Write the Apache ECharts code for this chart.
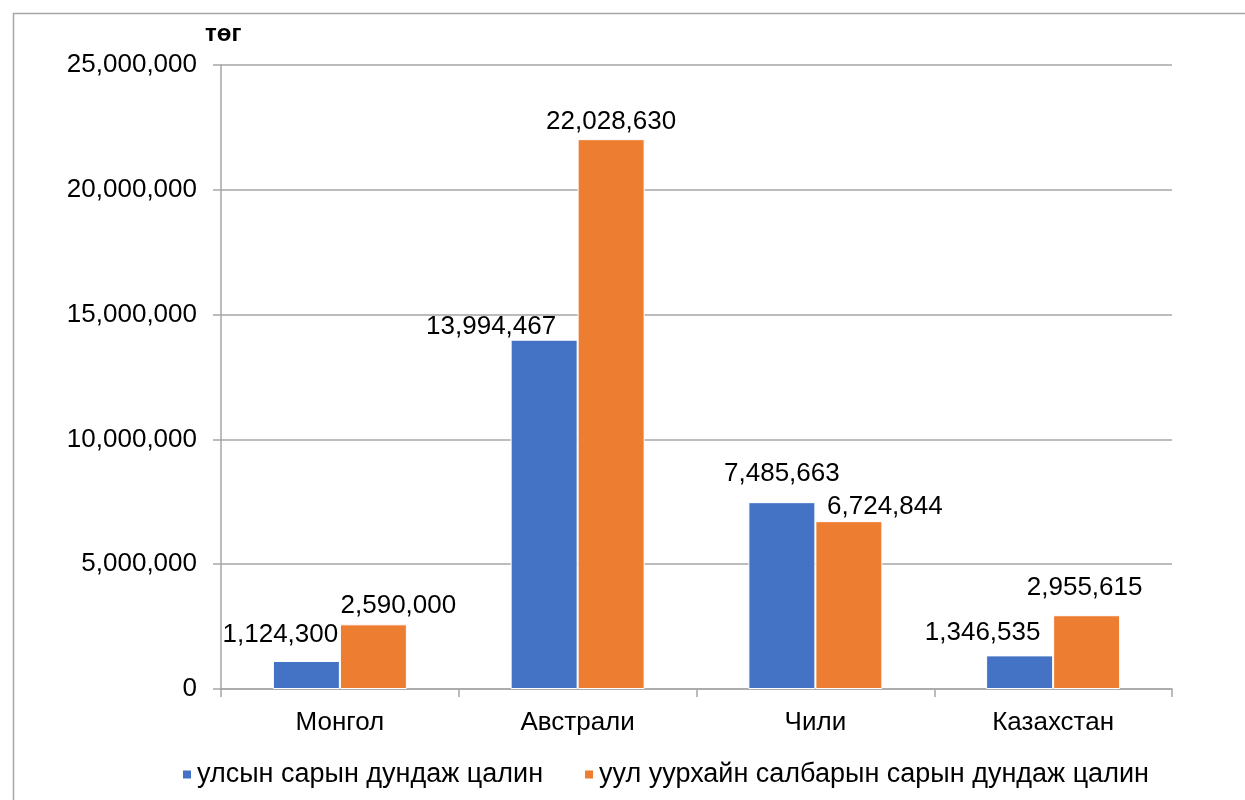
<!DOCTYPE html>
<html>
<head>
<meta charset="utf-8">
<script src="https://cdn.jsdelivr.net/npm/echarts@6/dist/echarts.min.js"></script>
<style>
html,body{margin:0;padding:0;background:#fff;}
#chart{width:1245px;height:800px;}
</style>
</head>
<body>
<div id="chart"></div>
<script>
const categories = ['Монгол', 'Австрали', 'Чили', 'Казахстан'];
const seriesNames = ['улсын сарын дундаж цалин', 'уул уурхайн салбарын сарын дундаж цалин'];
const nationalWage = [1124300, 13994467, 7485663, 1346535];
const miningWage = [2590000, 22028630, 6724844, 2955615];
const yTicks = [0, 5000000, 10000000, 15000000, 20000000, 25000000];
const unitLabel = 'төг';

// label placement tweaks (dx, distance above bar) mimicking the original layout
const nationalLabelShift = [[-26, 13], [-53, 0], [0, 15], [-37, 10]];
const miningLabelShift = [[25, 6], [0, 4], [36, 1], [-2, 14]];

const FONT = '"Liberation Sans", Arial, sans-serif';
const fmt = v => Number(v).toLocaleString('en-US');

function buildData(values, shifts) {
  return values.map((v, i) => ({
    value: v,
    label: { offset: [shifts[i][0], 0], distance: shifts[i][1] }
  }));
}

const chart = echarts.init(document.getElementById('chart'), null, { renderer: 'canvas' });
const labelStyle = {
  show: true, position: 'top', color: '#000', fontSize: 26, fontFamily: FONT,
  lineHeight: 26, formatter: p => fmt(p.value)
};
chart.setOption({
  animation: false,
  backgroundColor: '#fff',
  textStyle: { fontFamily: FONT },
  graphic: [
    { type: 'rect', left: 11, top: 11, shape: { width: 1400, height: 1000 },
      style: { fill: 'none', stroke: '#a6a6a6', lineWidth: 1.5 }, silent: true },
    { type: 'text', left: 205, top: 22,
      style: { text: unitLabel, font: 'bold 24px "Liberation Sans", Arial, sans-serif', fill: '#000' } }
  ],
  grid: { left: 221, right: 73, top: 65, bottom: 111, containLabel: false },
  legend: {
    left: 181, top: 761, padding: 0, itemWidth: 10, itemHeight: 10, itemGap: 40,
    icon: 'rect',
    textStyle: { fontSize: 27, color: '#000', fontFamily: FONT },
    data: seriesNames
  },
  xAxis: {
    type: 'category', data: categories,
    axisLine: { lineStyle: { color: '#a6a6a6', width: 1.5 } },
    axisTick: { show: true, length: 8, lineStyle: { color: '#a6a6a6', width: 1.5 } },
    axisLabel: { fontSize: 26, color: '#000', margin: 21, fontFamily: FONT }
  },
  yAxis: {
    type: 'value', min: yTicks[0], max: yTicks[yTicks.length - 1],
    interval: yTicks[1] - yTicks[0],
    axisLine: { show: true, lineStyle: { color: '#a6a6a6', width: 1.5 } },
    axisTick: { show: true, length: 8, lineStyle: { color: '#a6a6a6', width: 1.5 } },
    splitLine: { lineStyle: { color: '#a6a6a6', width: 1.5 } },
    axisLabel: { fontSize: 26, color: '#000', margin: 24, fontFamily: FONT, formatter: v => fmt(v) }
  },
  series: [
    { name: seriesNames[0], type: 'bar', barWidth: 67, barGap: '0%',
      itemStyle: { color: '#4472C4', borderColor: '#fff', borderWidth: 1 },
      label: labelStyle, data: buildData(nationalWage, nationalLabelShift) },
    { name: seriesNames[1], type: 'bar', barWidth: 67,
      itemStyle: { color: '#ED7D31', borderColor: '#fff', borderWidth: 1 },
      label: labelStyle, data: buildData(miningWage, miningLabelShift) }
  ]
});
</script>
</body>
</html>
